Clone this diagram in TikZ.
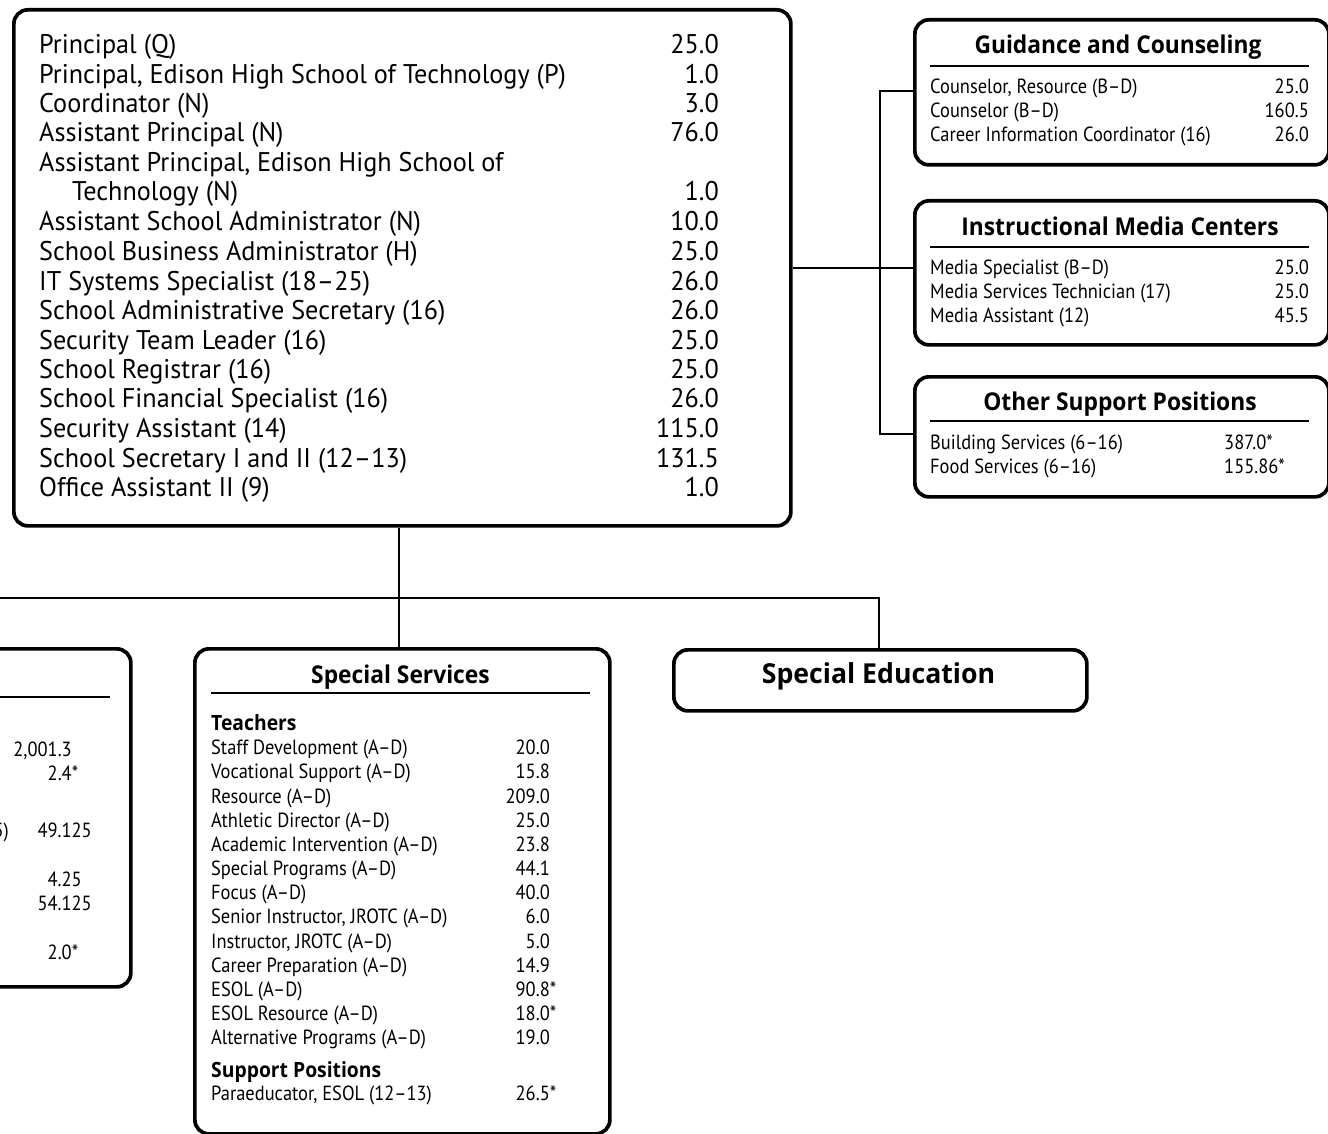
\documentclass[tikz,border=0pt]{standalone}
\usepackage{fontspec}
\newfontfamily\bodyf{PT Sans}[FakeStretch=0.97]
\newfontfamily\bodys{PT Sans}[FakeStretch=0.90]
\newfontfamily\headf{Open Sans}[FakeStretch=0.93]
\newfontfamily\heads{Open Sans}[FakeStretch=0.92]
\newfontfamily\headb{Open Sans}[FakeStretch=0.97]
\newcommand\rowLR[7]{%
  \node[#2,anchor=base west] (#1l) at (#4,#3) {#5};
  \node[#2,anchor=base east] (#1r) at (#6,#3) {#7};}
\begin{document}
\begin{tikzpicture}[x=1pt,y=-1pt,
  box/.style={draw, line width=3.7pt, rounded corners=14pt, inner sep=0pt, anchor=north west},
  conn/.style={line width=2pt},
  rulel/.style={line width=1.2pt},
  mt/.style={font=\bodyf\fontsize{27}{31}\selectfont, inner sep=0pt},
  st/.style={font=\bodys\fontsize{20.5}{24}\selectfont, inner sep=0pt},
  ht/.style={font=\headf\bfseries\fontsize{24.5}{28}\selectfont, inner sep=0pt, anchor=base},
  hb/.style={font=\headb\bfseries\fontsize{27.5}{30}\selectfont, inner sep=0pt, anchor=base},
  sh/.style={font=\heads\bfseries\fontsize{21}{24}\selectfont, inner sep=0pt, anchor=base west}]
\clip (0,0) rectangle (1328,1134);
% boxes
\node[box, minimum width=777pt, minimum height=516pt] (main) at (12,8) {};
\node[box, minimum width=414pt, minimum height=145pt] (guid) at (913,18) {};
\node[box, minimum width=414pt, minimum height=144pt] (media) at (913,199) {};
\node[box, minimum width=414pt, minimum height=120pt] (other) at (913,375) {};
\node[box, minimum width=415pt, minimum height=485pt] (sserv) at (193,647) {};
\node[box, minimum width=413pt, minimum height=61pt] (sedu) at (672,648) {};
\node[box, minimum width=429pt, minimum height=338pt] (left) at (-300,647) {};
% connectors
\coordinate (jr) at (880,268);
\coordinate (gy) at (880,91);
\coordinate (oy) at (880,434);
\draw[conn] (main.east |- jr) -- (media.west |- jr);
\draw[conn] (guid.west |- gy) -- (gy) -- (oy) -- (other.west |- oy);
\coordinate (bus) at (399,598);
\coordinate (busL) at (-10,598);
\coordinate (busR) at (879,598);
\draw[conn] (main.south -| bus) -- (sserv.north -| bus);
\draw[conn] (busL) -- (busR) -- (sedu.north -| busR);
% main list
\rowLR{m1}{mt}{53.5}{39}{Principal (Q)}{719}{25.0}
\rowLR{m2}{mt}{83.5}{39}{Principal, Edison High School of Technology (P)}{719}{1.0}
\rowLR{m3}{mt}{112.5}{39}{Coordinator (N)}{719}{3.0}
\rowLR{m4}{mt}{141.5}{39}{Assistant Principal (N)}{719}{76.0}
\node[mt,anchor=base west] (m5l) at (39,171.5) {Assistant Principal, Edison High School of};
\rowLR{m6}{mt}{200.5}{72}{Technology (N)}{719}{1.0}
\rowLR{m7}{mt}{230.5}{39}{Assistant School Administrator (N)}{719}{10.0}
\rowLR{m8}{mt}{260.5}{39}{School Business Administrator (H)}{719}{25.0}
\rowLR{m9}{mt}{290.5}{39}{IT Systems Specialist (18–25)}{719}{26.0}
\rowLR{m10}{mt}{319.5}{39}{School Administrative Secretary (16)}{719}{26.0}
\rowLR{m11}{mt}{349.5}{39}{Security Team Leader (16)}{719}{25.0}
\rowLR{m12}{mt}{378.5}{39}{School Registrar (16)}{719}{25.0}
\rowLR{m13}{mt}{407.5}{39}{School Financial Specialist (16)}{719}{26.0}
\rowLR{m14}{mt}{437.5}{39}{Security Assistant (14)}{719}{115.0}
\rowLR{m15}{mt}{467.5}{39}{School Secretary I and II (12–13)}{719}{131.5}
\rowLR{m16}{mt}{496.5}{39}{Office Assistant II (9)}{719}{1.0}
% guidance
\node[ht] (gt) at (1118,53.5) {Guidance and Counseling};
\draw[rulel] (930,66) -- (1309,66);
\rowLR{g1}{st}{93.5}{930}{Counselor, Resource (B–D)}{1309}{25.0}
\rowLR{g2}{st}{117.5}{930}{Counselor (B–D)}{1309}{160.5}
\rowLR{g3}{st}{141.5}{930}{Career Information Coordinator (16)}{1309}{26.0}
% media
\node[ht] (mt) at (1120,235.5) {Instructional Media Centers};
\draw[rulel] (930,247) -- (1309,247);
\rowLR{i1}{st}{274.5}{930}{Media Specialist (B–D)}{1309}{25.0}
\rowLR{i2}{st}{298.5}{930}{Media Services Technician (17)}{1309}{25.0}
\rowLR{i3}{st}{322.5}{930}{Media Assistant (12)}{1309}{45.5}
% other
\node[ht] (ot) at (1120,410.5) {Other Support Positions};
\draw[rulel] (930,421) -- (1309,421);
\node[st,anchor=base west] (o1l) at (930,449.5) {Building Services (6–16)};
\node[st,anchor=base west] (o1r) at (1224,449.5) {387.0*};
\node[st,anchor=base west] (o2l) at (930,473.5) {Food Services (6–16)};
\node[st,anchor=base west] (o2r) at (1224,473.5) {155.86*};
% special services
\node[ht] (sst) at (400.5,683.5) {Special Services};
\draw[rulel] (211,693) -- (590,693);
\node[sh] (teach) at (211,730) {Teachers};
\rowLR{s1}{st}{754.5}{211}{Staff Development (A–D)}{550}{20.0}
\rowLR{s2}{st}{778.5}{211}{Vocational Support (A–D)}{550}{15.8}
\rowLR{s3}{st}{803.5}{211}{Resource (A–D)}{550}{209.0}
\rowLR{s4}{st}{827.5}{211}{Athletic Director (A–D)}{550}{25.0}
\rowLR{s5}{st}{851.5}{211}{Academic Intervention (A–D)}{550}{23.8}
\rowLR{s6}{st}{875.5}{211}{Special Programs (A–D)}{550}{44.1}
\rowLR{s7}{st}{899.5}{211}{Focus (A–D)}{550}{40.0}
\rowLR{s8}{st}{923.5}{211}{Senior Instructor, JROTC (A–D)}{550}{6.0}
\rowLR{s9}{st}{948.5}{211}{Instructor, JROTC (A–D)}{550}{5.0}
\rowLR{s10}{st}{972.5}{211}{Career Preparation (A–D)}{550}{14.9}
\rowLR{s11}{st}{996.5}{211}{ESOL (A–D)}{550}{90.8\rlap{*}}
\rowLR{s12}{st}{1020.5}{211}{ESOL Resource (A–D)}{550}{18.0\rlap{*}}
\rowLR{s13}{st}{1044.5}{211}{Alternative Programs (A–D)}{550}{19.0}
\node[sh] (supp) at (211,1077) {Support Positions};
\rowLR{s14}{st}{1100.5}{211}{Paraeducator, ESOL (12–13)}{550}{26.5\rlap{*}}
% special education
\node[hb] (set) at (878.5,683.5) {Special Education};
% left box (cut off)
\draw[rulel] (-10,697) -- (110,697);
\node[st,anchor=base east] (l1) at (72,756.5) {2,001.3};
\node[st,anchor=base east] (l2) at (72,780.5) {2.4\rlap{*}};
\node[st,anchor=base east] (l3a) at (9,837.5) {5)};
\node[st,anchor=base east] (l3) at (92,837.5) {49.125};
\node[st,anchor=base east] (l4) at (82,886.5) {4.25};
\node[st,anchor=base east] (l5) at (92,910.5) {54.125};
\node[st,anchor=base east] (l6) at (72,959.5) {2.0\rlap{*}};
\end{tikzpicture}
\end{document}
